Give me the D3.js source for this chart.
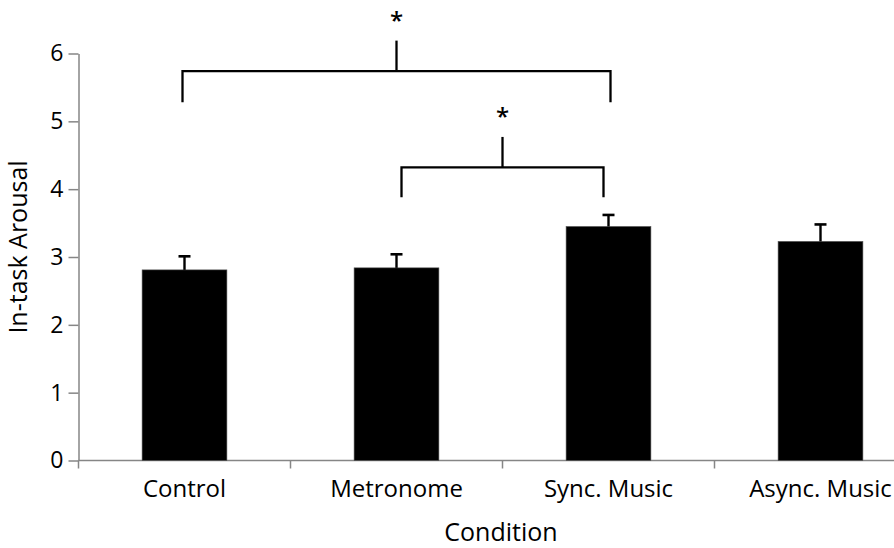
<!DOCTYPE html>
<html>
<head>
<meta charset="utf-8">
<script src="https://cdn.jsdelivr.net/npm/d3@7"></script>
<style>
  html, body { margin: 0; padding: 0; background: #fff; }
  svg { display: block; font-family: "Open Sans", sans-serif; }
</style>
</head>
<body>
<svg id="chart" width="894" height="548"></svg>
<script>
// ---- data ----
const categories = ["Control", "Metronome", "Sync. Music", "Async. Music"];
const means = [2.81, 2.84, 3.45, 3.23];
const errors = [0.20, 0.20, 0.17, 0.25];
const yTicks = [0, 1, 2, 3, 4, 5, 6];
const xTitle = "Condition";
const yTitle = "In-task Arousal";
// significance brackets: from / to category, bracket level, leg bottom, stem top, label
const brackets = [
  { from: "Control", to: "Sync. Music", level: 5.74, leg: 5.28, stem: 6.19, label: "*", inset: -2 },
  { from: "Metronome", to: "Sync. Music", level: 4.32, leg: 3.88, stem: 4.77, label: "*", inset: 5 }
];

// ---- layout ----
const svg = d3.select("#chart");
const W = 894, H = 548;
const mLeft = 78.5, mBottom = 460.5, mTop = 53.5;

const x = d3.scaleBand().domain(categories).range([mLeft, mLeft + 212 * 4]).padding(0);
const y = d3.scaleLinear().domain([0, 6]).range([mBottom, mTop]);
const barW = x.bandwidth() * 0.4;
const axisColor = "#868686";

// y axis
const yAxis = svg.append("g")
  .attr("transform", `translate(${mLeft},0)`)
  .call(d3.axisLeft(y).tickValues(yTicks).tickSize(10).tickSizeOuter(0).tickPadding(5).tickFormat(d3.format("d")));
yAxis.select(".domain").attr("stroke", axisColor).attr("stroke-width", 1.5);
yAxis.selectAll(".tick line").attr("stroke", axisColor).attr("stroke-width", 1.5);
yAxis.selectAll(".tick text").attr("font-size", 23).attr("fill", "#000")
  .attr("font-family", "Open Sans, sans-serif");

// x axis (ticks at category boundaries)
const xg = svg.append("g").attr("transform", `translate(0,${mBottom})`);
xg.append("line").attr("x1", mLeft).attr("x2", W + 40).attr("y1", 0).attr("y2", 0)
  .attr("stroke", axisColor).attr("stroke-width", 1.5);
xg.selectAll(".xtick").data(categories).join("line")
  .attr("x1", d => x(d)).attr("x2", d => x(d)).attr("y1", 0).attr("y2", 8)
  .attr("stroke", axisColor).attr("stroke-width", 1.5);
xg.selectAll(".xlabel").data(categories).join("text")
  .attr("x", d => x(d) + x.bandwidth() / 2).attr("y", 36.5)
  .attr("text-anchor", "middle").attr("font-size", 24).attr("fill", "#000")
  .text(d => d);

// bars
svg.selectAll(".bar").data(categories).join("rect")
  .attr("x", d => x(d) + (x.bandwidth() - barW) / 2)
  .attr("width", barW)
  .attr("y", (d, i) => y(means[i]))
  .attr("height", (d, i) => y(0) - y(means[i]))
  .attr("fill", "#000")
  .attr("stroke", "#555").attr("stroke-width", 0.6);

// error bars (upper only)
const cx = d => x(d) + x.bandwidth() / 2;
svg.selectAll(".err").data(categories).join("line")
  .attr("x1", cx).attr("x2", cx)
  .attr("y1", (d, i) => y(means[i]))
  .attr("y2", (d, i) => y(means[i] + errors[i]))
  .attr("stroke", "#000").attr("stroke-width", 2.4);
svg.selectAll(".cap").data(categories).join("line")
  .attr("x1", d => cx(d) - 6).attr("x2", d => cx(d) + 6)
  .attr("y1", (d, i) => y(means[i] + errors[i]))
  .attr("y2", (d, i) => y(means[i] + errors[i]))
  .attr("stroke", "#000").attr("stroke-width", 2.6);

// significance brackets
brackets.forEach(b => {
  const x1 = cx(b.from) + b.inset, x2 = cx(b.to) - b.inset, xm = (x1 + x2) / 2;
  svg.append("path")
    .attr("d", `M${x1},${y(b.leg)}V${y(b.level)}H${x2}V${y(b.leg)}`)
    .attr("fill", "none").attr("stroke", "#000").attr("stroke-width", 2.3);
  svg.append("line").attr("x1", xm).attr("x2", xm)
    .attr("y1", y(b.level)).attr("y2", y(b.stem))
    .attr("stroke", "#000").attr("stroke-width", 2.3);
  svg.append("text").attr("x", xm).attr("y", y(b.stem) - 12)
    .attr("text-anchor", "middle").attr("font-size", 24).attr("font-weight", 600).attr("fill", "#000")
    .text(b.label);
});

// axis titles
svg.append("text").attr("x", 501).attr("y", 541)
  .attr("text-anchor", "middle").attr("font-size", 25).attr("fill", "#000").text(xTitle);
svg.append("text").attr("transform", `translate(27,${(mTop + mBottom) / 2 - 10}) rotate(-90)`)
  .attr("text-anchor", "middle").attr("font-size", 25).attr("fill", "#000").text(yTitle);
</script>
</body>
</html>
